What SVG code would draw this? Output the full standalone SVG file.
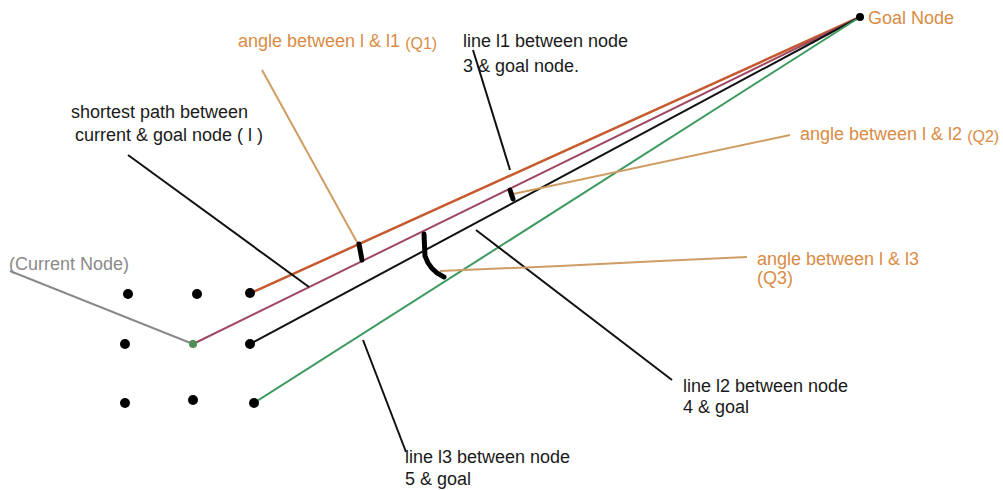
<svg xmlns="http://www.w3.org/2000/svg" width="1003" height="490" viewBox="0 0 1003 490">
<style>
text{font-family:"Liberation Sans",Arial,sans-serif;font-size:18px;}
.blk{fill:#1a1a1a;}
.org{fill:#d98c45;}
.gry{fill:#8a8a8a;}
.dot{fill:#000;}
.lead{fill:none;stroke:#111;stroke-width:2;}
.tan{fill:none;stroke:#cf9d64;stroke-width:2;}
.mark{fill:none;stroke:#000;stroke-linecap:round;}
</style>
<rect width="1003" height="490" fill="#fff"/>
<g id="connectors">
<line x1="251" y1="293" x2="860" y2="17" stroke="#c65a2e" stroke-width="2.5"/>
<line x1="193" y1="344" x2="860" y2="17" stroke="#a04862" stroke-width="2"/>
<line x1="250" y1="344" x2="860" y2="17" stroke="#111" stroke-width="2"/>
<line x1="254" y1="403" x2="860" y2="17" stroke="#3d9a5f" stroke-width="2"/>
<line x1="10" y1="271" x2="193" y2="344" stroke="#8a8a8a" stroke-width="2"/>
<line class="lead" x1="128" y1="155" x2="309" y2="287"/>
<line class="lead" x1="473" y1="50" x2="510" y2="170"/>
<line class="lead" x1="476" y1="230" x2="672" y2="380"/>
<line class="lead" x1="363" y1="340" x2="406" y2="452"/>
<line class="tan" x1="262" y1="70" x2="358" y2="244"/>
<line class="tan" x1="513" y1="194" x2="790" y2="135"/>
<polyline class="tan" points="440,271 560,266 660,261 747,257"/>
<path class="mark" d="M359,244 L362,260" stroke-width="5"/>
<path class="mark" d="M510,190 L513,199" stroke-width="5"/>
<path class="mark" d="M424,234 L425,256 Q430,271 444,277" stroke-width="5"/>
</g>
<g id="nodes">
<circle class="dot" cx="128" cy="294" r="5"/>
<circle class="dot" cx="197" cy="294" r="5"/>
<circle class="dot" cx="250" cy="293" r="5"/>
<circle class="dot" cx="125" cy="344" r="5"/>
<circle cx="193" cy="344" r="4" fill="#4f8f55"/>
<circle class="dot" cx="250" cy="344" r="5"/>
<circle class="dot" cx="125" cy="403" r="5"/>
<circle class="dot" cx="193" cy="400" r="5"/>
<circle class="dot" cx="254" cy="403" r="5"/>
<circle class="dot" cx="860" cy="17" r="4"/>
</g>
<g id="label-current"><text class="gry" x="9" y="270" font-size="17.5">(Current Node)</text></g>
<g id="label-goal"><text class="org" x="868" y="24" font-size="16.7">Goal Node</text></g>
<g id="label-q1"><text class="org" x="238" y="47" font-size="16.5">angle between l &amp; l1 <tspan font-size="16" dy="2">(Q1)</tspan></text></g>
<g id="label-q2"><text class="org" x="800" y="140" font-size="17.8">angle between l &amp; l2 <tspan font-size="16" dy="2">(Q2)</tspan></text></g>
<g id="label-q3"><text class="org" x="757" y="265" font-size="17.8">angle between l &amp; l3</text><text class="org" x="757" y="284" font-size="17.8">(Q3)</text></g>
<g id="label-l"><text class="blk" x="71" y="118">shortest path between</text><text class="blk" x="75" y="141">current &amp; goal node ( l )</text></g>
<g id="label-l1"><text class="blk" x="463" y="47">line l1 between node</text><text class="blk" x="463" y="72">3 &amp; goal node.</text></g>
<g id="label-l2"><text class="blk" x="683" y="392">line l2 between node</text><text class="blk" x="683" y="413">4 &amp; goal</text></g>
<g id="label-l3"><text class="blk" x="405" y="463">line l3 between node</text><text class="blk" x="405" y="485">5 &amp; goal</text></g>
</svg>
